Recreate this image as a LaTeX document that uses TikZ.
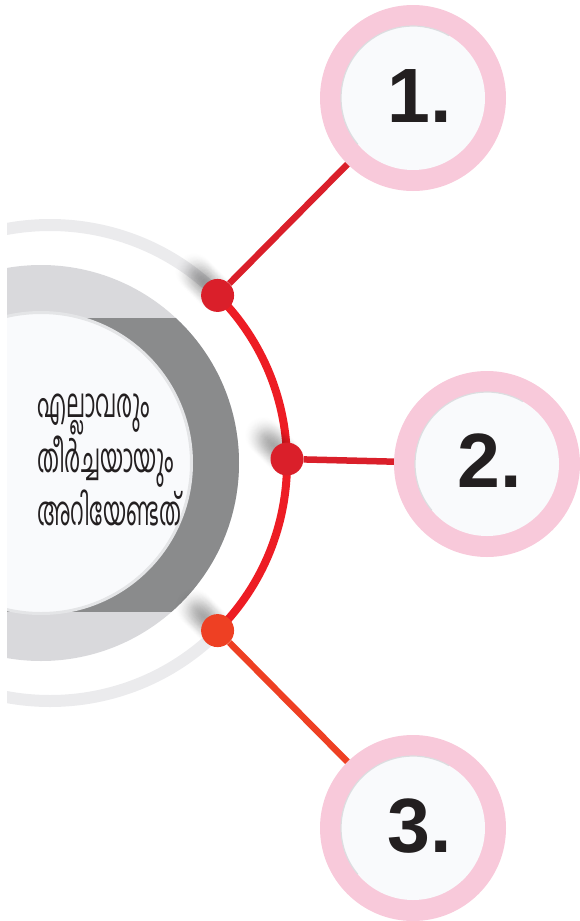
\documentclass[tikz,border=0pt]{standalone}
\usepackage{fontspec}
\setmainfont{Liberation Sans}
\newfontfamily\malfont[Script=Malayalam]{Hind Kochi}
\usetikzlibrary{fadings}
\tikzfading[name=softblob, inner color=transparent!35, outer color=transparent!100]
\definecolor{diskgray}{HTML}{D9D9DC}
\definecolor{bandgray}{HTML}{8A8B8C}
\definecolor{arcgray}{HTML}{EBEBED}
\definecolor{innerwhite}{HTML}{F9FAFC}
\definecolor{ringgray}{HTML}{E4E5E7}
\definecolor{redarc}{HTML}{ED1C24}
\definecolor{dotred}{HTML}{DA1F2A}
\definecolor{dotorange}{HTML}{EE4023}
\definecolor{pinkring}{HTML}{F8C9DA}
\definecolor{numcol}{HTML}{231F20}
\definecolor{rimgray}{HTML}{DCDDE0}
\tikzset{
  dotnode/.style={circle, inner sep=0pt, minimum size=33pt},
  ringnode/.style={circle, fill=pinkring, inner sep=0pt, minimum size=186pt},
  facewhite/.style={fill=innerwhite},
  facerim/.style={draw=rimgray, line width=1.2pt},
  numtext/.style={font=\fontsize{77}{77}\selectfont\bfseries, text=numcol, inner sep=0pt, anchor=base},
  linkline/.style={line width=6.5pt},
  shadowblob/.style={fill=black, opacity=0.14, path fading=softblob},
  maltext/.style={font=\malfont\fontsize{35}{46}\selectfont, text=numcol, align=left, anchor=west, inner sep=0pt, xscale=0.62, yscale=1.15, transform shape}
}
\begin{document}
\begin{tikzpicture}[x=1pt,y=-1pt]
\useasboundingbox (0,0) rectangle (579,921);
\coordinate (C) at (50,463);
\coordinate (D) at (41,463);
% left discs
\begin{scope}
  \clip (7,0) rectangle (579,921);
  \fill[diskgray] (D) circle (198);
  \begin{scope}
    \clip (D) circle (198);
    \fill[bandgray] (0,318) rectangle (245,612);
  \end{scope}
  \fill[innerwhite, draw=ringgray, line width=3pt] (D) circle (150.5);
  \draw[arcgray, line width=12pt] ([shift={(45:238)}]C) arc[start angle=45, end angle=315, radius=238];
\end{scope}
% red arc
\draw[redarc, line width=8pt] ([shift={(-45:237)}]C) arc[start angle=-45, end angle=45, radius=237];
% soft shadows
\foreach \px/\py in {217.6/295.4, 287/459, 217.6/630.6}{
  \foreach \k in {3,6,...,24}{
    \fill[shadowblob] (\px-\k,\py-\k) circle (19);
  }
}
% dots
\node[dotnode, fill=dotred] (d1) at ([shift={(-45:237)}]C) {};
\node[dotnode, fill=dotred] (d2) at (287,459) {};
\node[dotnode, fill=dotorange] (d3) at ([shift={(45:237)}]C) {};
% number rings
\node[ringnode] (n1) at (413,98) {};
\node[ringnode] (n2) at (487,464) {};
\node[ringnode] (n3) at (413,828) {};
% connectors
\draw[linkline, color=dotred] (d1) -- (n1);
\draw[linkline, color=dotred] (d2) -- (n2);
\draw[linkline, color=dotorange] (d3) -- (n3);
% white faces
\foreach \n in {n1,n2,n3}{
  \fill[facewhite] (\n) circle (72);
  \draw[facerim] ([shift={(140:72)}]\n.center) arc[start angle=140, end angle=300, radius=72];
}
% numbers
\node[numtext] (t1) at (420,122) {1.};
\node[numtext] (t2) at (490,487) {2.};
\node[numtext] (t3) at (420,852) {3.};
% title text
\node[maltext] (title) at (37,460) {എല്ലാവരും\\തീർച്ചയായും\\അറിയേണ്ടത്};
\end{tikzpicture}
\end{document}
